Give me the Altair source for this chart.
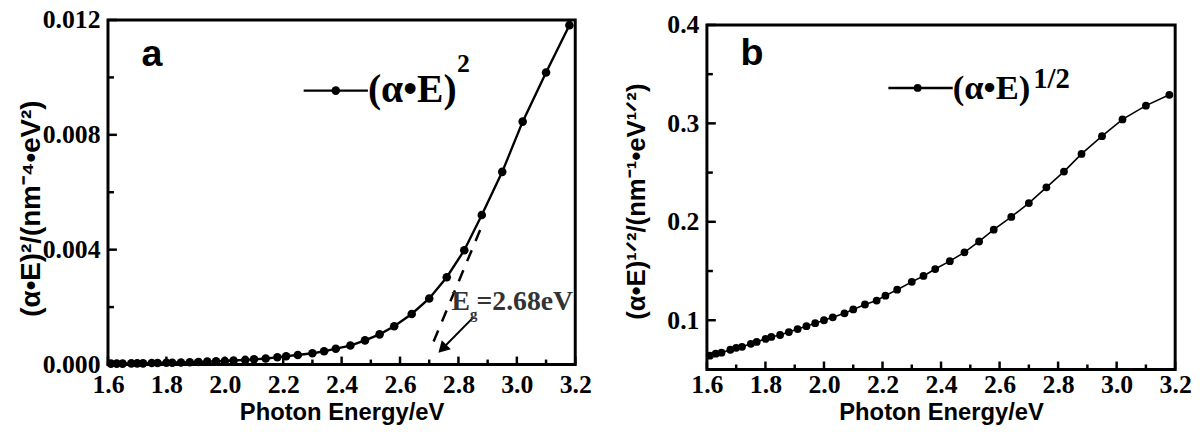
import altair as alt
import pandas as pd

# ---------------- data ----------------
energy = [3.18, 3.10, 3.02, 2.95, 2.88, 2.82, 2.76, 2.70, 2.64, 2.58,
          2.53, 2.48, 2.43, 2.38, 2.34, 2.30, 2.25, 2.21, 2.18, 2.14,
          2.10, 2.07, 2.03, 2.00, 1.97, 1.94, 1.91, 1.88, 1.85, 1.82,
          1.80, 1.77, 1.75, 1.72, 1.70, 1.68, 1.65, 1.63, 1.61]
ae_sq = [0.01182, 0.01017, 0.00846, 0.00671, 0.00521, 0.00398, 0.00304, 0.00230, 0.00176, 0.00133,
         0.00105, 0.00084, 0.00066, 0.00055, 0.00046, 0.00039, 0.00033, 0.00029, 0.00025, 0.00021,
         0.00018, 0.00016, 0.00014, 0.00012, 0.00011, 0.00010, 0.00009, 0.00008, 0.00007, 0.00006,
         0.00006, 0.00005, 0.00005, 0.00004, 0.00004, 0.00004, 0.00003, 0.00003, 0.00003]
ae_half = [0.329, 0.318, 0.304, 0.287, 0.269, 0.251, 0.235, 0.219, 0.205, 0.192,
           0.180, 0.169, 0.160, 0.152, 0.145, 0.139, 0.131, 0.125, 0.120, 0.116,
           0.111, 0.107, 0.103, 0.100, 0.097, 0.094, 0.091, 0.088, 0.085, 0.083,
           0.081, 0.078, 0.076, 0.073, 0.072, 0.070, 0.067, 0.066, 0.064]

x_major = [1.6, 1.8, 2.0, 2.2, 2.4, 2.6, 2.8, 3.0, 3.2]
x_minor = [1.7, 1.9, 2.1, 2.3, 2.5, 2.7, 2.9, 3.1]
ya_major = [0.0, 0.004, 0.008, 0.012]
ya_minor = [0.002, 0.006, 0.010]
yb_major = [0.1, 0.2, 0.3, 0.4]
yb_minor = [0.15, 0.25, 0.35]

# frame limits of the two panels
xa_lim = [1.6, 3.2]
ya_lim = [0.0, 0.012]
xb_lim = [1.6, 3.2]
yb_lim = [0.05, 0.4]

# tangent (band-gap extrapolation) and arrow in panel a
tangent_x = [2.715, 2.875]
tangent_y = [0.0008, 0.0047]
arrow_x = [2.851, 2.745]
arrow_y = [0.00164, 0.00055]

# legend positions
leg_a_x = [2.27, 2.49]
leg_a_dot = 2.38
leg_a_y = 0.00954
leg_b_x = [2.22, 2.44]
leg_b_dot = 2.32
leg_b_y = 0.336

WA, HA = 472, 348
WB, HB = 473, 353          # panel b: plot frame (0.05..0.4) is 348 px, 5 px lower than panel a
YB_TOP = 0.40503           # scale top of panel b, so that 0.4 lies 5 px below the view top


def frame_ticks(x_scale, y_scale, ymaj, ymin, H):
    xt = pd.DataFrame({"v": x_major})
    xm = pd.DataFrame({"v": x_minor})
    yt = pd.DataFrame({"v": ymaj})
    ym = pd.DataFrame({"v": ymin})
    r1 = alt.Chart(xt).mark_rule(color="black", strokeWidth=2.5).encode(
        x=alt.X("v:Q", scale=x_scale), y=alt.value(H), y2=alt.value(H - 8))
    r2 = alt.Chart(xm).mark_rule(color="black", strokeWidth=2.5).encode(
        x=alt.X("v:Q", scale=x_scale), y=alt.value(H), y2=alt.value(H - 5))
    r3 = alt.Chart(yt).mark_rule(color="black", strokeWidth=2.5).encode(
        y=alt.Y("v:Q", scale=y_scale), x=alt.value(0), x2=alt.value(9))
    r4 = alt.Chart(ym).mark_rule(color="black", strokeWidth=2.5).encode(
        y=alt.Y("v:Q", scale=y_scale), x=alt.value(0), x2=alt.value(6))
    return [r1, r2, r3, r4]


def frame_rect(xlim, ylim, xsc, ysc):
    df = pd.DataFrame({"x": [xlim[0]], "x2": [xlim[1]], "y": [ylim[0]], "y2": [ylim[1]]})
    return alt.Chart(df).mark_rect(fill=None, fillOpacity=0, stroke="black", strokeWidth=3).encode(
        x=alt.X("x:Q", scale=xsc), x2="x2:Q", y=alt.Y("y:Q", scale=ysc), y2="y2:Q")


def x_axis(label_pad, title_y):
    return alt.Axis(values=x_major, format=".1f", title="Photon Energy/eV",
                    domain=False, ticks=False, tickSize=0, grid=False,
                    labelFont="Liberation Serif", labelFontWeight="bold",
                    labelFontSize=26, labelColor="black", labelPadding=label_pad,
                    labelBaseline="alphabetic", labelFlush=False, labelOverlap=False,
                    titleFont="Liberation Sans", titleFontWeight="bold",
                    titleFontSize=24, titleColor="black", titleY=title_y,
                    titleBaseline="alphabetic")


def y_axis(vals, fmt, title, tx, ty, tsize):
    return alt.Axis(values=vals, format=fmt, title=title,
                    domain=False, ticks=False, tickSize=0, grid=False,
                    labelFont="Liberation Serif", labelFontWeight="bold",
                    labelFontSize=26, labelColor="black", labelPadding=8,
                    labelFlush=False, labelOverlap=False,
                    titleFont="Liberation Sans", titleFontWeight="bold",
                    titleFontSize=tsize, titleColor="black", titleX=tx, titleY=ty,
                    titleAngle=270, titleBaseline="middle", titleAlign="center")


def text_layer(xs, ys, texts, xsc, ysc, size, font="Liberation Serif", weight="bold",
               color="black", align="left", baseline="alphabetic"):
    df = pd.DataFrame({"x": xs, "y": ys, "t": texts})
    return alt.Chart(df).mark_text(font=font, fontSize=size, fontWeight=weight,
                                   color=color, align=align, baseline=baseline).encode(
        x=alt.X("x:Q", scale=xsc), y=alt.Y("y:Q", scale=ysc), text="t:N")


# ---------------- panel a ----------------
xsa = alt.Scale(domain=xa_lim, nice=False, zero=False)
ysa = alt.Scale(domain=ya_lim, nice=False, zero=False)
dfa = pd.DataFrame({"E": energy, "v": ae_sq})

line_a = alt.Chart(dfa).mark_line(color="black", strokeWidth=2.4).encode(
    x=alt.X("E:Q", scale=xsa, axis=x_axis(28, 56)),
    y=alt.Y("v:Q", scale=ysa,
            axis=y_axis(ya_major, ".3f", "(α•E)²/(nm⁻⁴•eV²)", -77, 190, 28)),
    order="E:Q")
pts_a = alt.Chart(dfa).mark_circle(color="black", size=75, opacity=1).encode(
    x=alt.X("E:Q", scale=xsa), y=alt.Y("v:Q", scale=ysa))

tan_a = alt.Chart(pd.DataFrame({"x": tangent_x, "y": tangent_y})).mark_line(
    color="black", strokeWidth=2.5, strokeDash=[12, 10]).encode(
    x=alt.X("x:Q", scale=xsa), y=alt.Y("y:Q", scale=ysa))
arr_df = pd.DataFrame({"x": arrow_x, "y": arrow_y})
arr_a = alt.Chart(arr_df).mark_line(color="black", strokeWidth=2).encode(
    x=alt.X("x:Q", scale=xsa), y=alt.Y("y:Q", scale=ysa))
head_a = alt.Chart(arr_df.iloc[[1]]).mark_point(
    shape="triangle-up", filled=True, color="black", size=170, angle=225, opacity=1).encode(
    x=alt.X("x:Q", scale=xsa), y=alt.Y("y:Q", scale=ysa))

eg_E = text_layer([2.776], [0.0019], ["E"], xsa, ysa, 28, color="#333333")
eg_g = text_layer([2.840], [0.00160], ["g"], xsa, ysa, 15, color="#333333")
eg_v = text_layer([2.862], [0.0019], ["=2.68eV"], xsa, ysa, 28, color="#333333")

leg_line_a = alt.Chart(pd.DataFrame({"x": leg_a_x, "y": [leg_a_y, leg_a_y]})).mark_line(
    color="black", strokeWidth=2.5).encode(x=alt.X("x:Q", scale=xsa), y=alt.Y("y:Q", scale=ysa))
leg_dot_a = alt.Chart(pd.DataFrame({"x": [leg_a_dot], "y": [leg_a_y]})).mark_circle(
    color="black", size=75, opacity=1).encode(x=alt.X("x:Q", scale=xsa), y=alt.Y("y:Q", scale=ysa))
leg_txt_a = text_layer([2.49], [leg_a_y], ["(α•E)"], xsa, ysa, 40, baseline="middle")
leg_sup_a = text_layer([2.795], [0.01045], ["2"], xsa, ysa, 26, baseline="middle")
lab_a = text_layer([1.715], [0.01039], ["a"], xsa, ysa, 38, font="Liberation Sans")

panel_a = alt.layer(
    line_a, pts_a, tan_a, arr_a, head_a, eg_E, eg_g, eg_v,
    leg_line_a, leg_dot_a, leg_txt_a, leg_sup_a, lab_a,
    *frame_ticks(xsa, ysa, ya_major, ya_minor, HA),
    frame_rect(xa_lim, ya_lim, xsa, ysa)
).properties(width=WA, height=HA)

# ---------------- panel b ----------------
xsb = alt.Scale(domain=xb_lim, nice=False, zero=False)
ysb = alt.Scale(domain=[yb_lim[0], YB_TOP], nice=False, zero=False)
dfb = pd.DataFrame({"E": energy, "v": ae_half})

line_b = alt.Chart(dfb).mark_line(color="black", strokeWidth=1.6).encode(
    x=alt.X("E:Q", scale=xsb, axis=x_axis(23, 51)),
    y=alt.Y("v:Q", scale=ysb,
            axis=y_axis(yb_major, ".1f", "(α•E)¹ᐟ²/(nm⁻¹•eV¹ᐟ²)", -71, 183, 26)),
    order="E:Q")
pts_b = alt.Chart(dfb).mark_circle(color="black", size=62, opacity=1).encode(
    x=alt.X("E:Q", scale=xsb), y=alt.Y("v:Q", scale=ysb))

leg_line_b = alt.Chart(pd.DataFrame({"x": leg_b_x, "y": [leg_b_y, leg_b_y]})).mark_line(
    color="black", strokeWidth=2.5).encode(x=alt.X("x:Q", scale=xsb), y=alt.Y("y:Q", scale=ysb))
leg_dot_b = alt.Chart(pd.DataFrame({"x": [leg_b_dot], "y": [leg_b_y]})).mark_circle(
    color="black", size=62, opacity=1).encode(x=alt.X("x:Q", scale=xsb), y=alt.Y("y:Q", scale=ysb))
leg_txt_b = text_layer([2.44], [leg_b_y], ["(α•E)"], xsb, ysb, 35, baseline="middle")
leg_sup_b = text_layer([2.715], [0.345], ["1/2"], xsb, ysb, 29, baseline="middle")
lab_b = text_layer([1.715], [0.359], ["b"], xsb, ysb, 38, font="Liberation Sans")

panel_b = alt.layer(
    line_b, pts_b, leg_line_b, leg_dot_b, leg_txt_b, leg_sup_b, lab_b,
    *frame_ticks(xsb, ysb, yb_major, yb_minor, HB),
    frame_rect(xb_lim, yb_lim, xsb, ysb)
).properties(width=WB, height=HB)

chart = alt.hconcat(panel_a, panel_b, spacing=32).properties(
    padding={"left": 10, "top": -3, "right": 0, "bottom": -2}
).configure_view(stroke=None)

chart.save("out.html", embed_options={"renderer": "svg", "actions": False})
